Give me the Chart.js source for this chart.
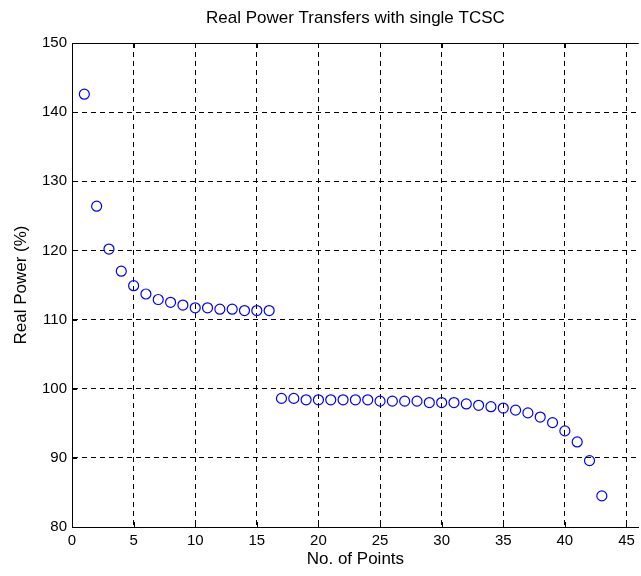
<!DOCTYPE html>
<html>
<head>
<meta charset="utf-8">
<script src="https://cdn.jsdelivr.net/npm/chart.js@4/dist/chart.umd.min.js"></script>
<style>
    html, body { margin: 0; padding: 0; background: #fff; overflow: hidden; }
    #wrap { width: 645px; height: 576px; }
</style>
</head>
<body>
<div id="wrap"><canvas id="chart" width="645" height="576"></canvas></div>
<script>
    'use strict';

    // values
    var pointNumbers = [1, 2, 3, 4, 5, 6, 7, 8, 9, 10, 11, 12, 13, 14, 15, 16,
        17, 18, 19, 20, 21, 22, 23, 24, 25, 26, 27, 28, 29, 30,
        31, 32, 33, 34, 35, 36, 37, 38, 39, 40, 41, 42, 43];
    var realPower = [142.6, 126.4, 120.2, 117.0, 114.9, 113.7, 112.9, 112.5, 112.1, 111.7, 111.7, 111.5, 111.5, 111.3, 111.3, 111.3,
        98.6, 98.6, 98.4, 98.4, 98.4, 98.4, 98.4, 98.4, 98.2, 98.2, 98.2, 98.2, 98.0, 98.0,
        98.0, 97.8, 97.6, 97.4, 97.2, 96.9, 96.5, 95.9, 95.1, 93.9, 92.3, 89.6, 84.5];
    var xTickValues = [0, 5, 10, 15, 20, 25, 30, 35, 40, 45];
    var yTickValues = [80, 90, 100, 110, 120, 130, 140, 150];
    var chartTitle = 'Real Power Transfers with single TCSC';

    var FONT = "'Liberation Sans', Arial, sans-serif";

    var points = pointNumbers.map(function (n, i) {
        return {x: n, y: realPower[i]};
    });

    // matlab puts the title over the axes, not over the whole figure
    var axesTitle = {
        id: 'axesTitle',
        afterDraw: function (chart) {
            var ctx = chart.ctx;
            var a = chart.chartArea;
            var cx = chart.scales.x.getPixelForValue(23);
            ctx.save();
            ctx.fillStyle = '#000';
            ctx.font = '17px ' + FONT;
            ctx.textAlign = 'center';
            ctx.textBaseline = 'middle';
            ctx.fillText(chartTitle, cx, 18);
            ctx.restore();
        }
    };

    // top frame line and inward tick marks
    var frame = {
        id: 'frame',
        afterDraw: function (chart) {
            var ctx = chart.ctx;
            var a = chart.chartArea;
            var xs = chart.scales.x, ys = chart.scales.y;
            ctx.save();
            ctx.strokeStyle = '#000';
            ctx.lineWidth = 1;
            ctx.beginPath();
            ctx.moveTo(a.left, Math.round(a.top) + 0.5);
            ctx.lineTo(a.right, Math.round(a.top) + 0.5);
            xTickValues.forEach(function (v) {
                var px = Math.round(xs.getPixelForValue(v)) + 0.5;
                ctx.moveTo(px, a.bottom);
                ctx.lineTo(px, a.bottom - 5);
                ctx.moveTo(px, a.top);
                ctx.lineTo(px, a.top + 5);
            });
            yTickValues.forEach(function (v) {
                var py = Math.round(ys.getPixelForValue(v)) + 0.5;
                ctx.moveTo(a.left, py);
                ctx.lineTo(a.left + 5, py);
            });
            ctx.stroke();
            ctx.restore();
        }
    };

    new Chart(document.getElementById('chart').getContext('2d'), {
        type: 'scatter',
        data: {
            datasets: [{
                label: 'Real Power',
                data: points,
                showLine: false,
                pointStyle: 'circle',
                pointRadius: 5,
                pointHoverRadius: 5,
                pointBorderWidth: 1.2,
                pointBorderColor: '#0000ff',
                pointBackgroundColor: 'rgba(0,0,0,0)'
            }]
        },
        options: {
            responsive: false,
            animation: false,
            devicePixelRatio: 1,
            layout: {padding: {left: 0, right: 2, top: 43, bottom: 0}},
            plugins: {
                legend: {display: false},
                tooltip: {enabled: false},
                title: {display: false}
            },
            scales: {
                x: {
                    type: 'linear',
                    min: 0,
                    max: 46,
                    afterBuildTicks: function (scale) {
                        scale.ticks = xTickValues.map(function (v) { return {value: v}; });
                    },
                    afterFit: function (scale) { scale.height = 49; },
                    grid: {color: '#000', lineWidth: 1, drawTicks: false},
                    border: {display: true, color: '#000', width: 1, dash: [5, 4]},
                    ticks: {color: '#000', font: {family: FONT, size: 15}, padding: 5, maxRotation: 0},
                    title: {
                        display: true,
                        text: 'No. of Points',
                        color: '#000',
                        font: {family: FONT, size: 17},
                        padding: {top: 0, bottom: 6}
                    }
                },
                y: {
                    type: 'linear',
                    min: 80,
                    max: 150,
                    afterBuildTicks: function (scale) {
                        scale.ticks = yTickValues.map(function (v) { return {value: v}; });
                    },
                    afterFit: function (scale) { scale.width = 72; },
                    grid: {color: '#000', lineWidth: 1, drawTicks: false},
                    border: {display: true, color: '#000', width: 1, dash: [5, 4]},
                    ticks: {color: '#000', font: {family: FONT, size: 15}, padding: 5},
                    title: {
                        display: true,
                        text: 'Real Power (%)',
                        color: '#000',
                        font: {family: FONT, size: 17},
                        padding: {top: 11, bottom: 0}
                    }
                }
            }
        },
        plugins: [frame, axesTitle]
    });
</script>
</body>
</html>
